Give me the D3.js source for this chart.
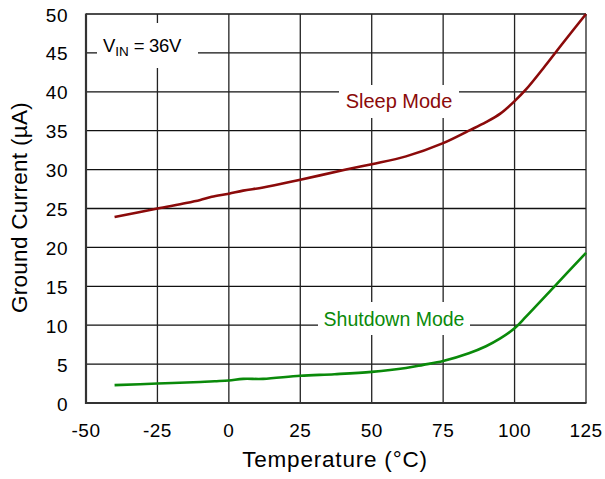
<!DOCTYPE html>
<html>
<head>
<meta charset="utf-8">
<script src="https://cdn.jsdelivr.net/npm/d3@7"></script>
<style>
  html, body { margin: 0; padding: 0; background: #fff; }
  svg text { font-family: Arial, "Liberation Sans", Helvetica, sans-serif; }
</style>
</head>
<body>
<svg id="chart" width="605" height="479"></svg>
<script>
// ---- data ----
const xTicks = [-50, -25, 0, 25, 50, 75, 100, 125];
const yTicks = [0, 5, 10, 15, 20, 25, 30, 35, 40, 45, 50];

const sleepTemp  = [-40, -25, -15, -10, -6, 0, 5, 12, 25, 41, 50, 62, 75, 84, 90, 95, 100, 104, 110, 117, 125];
const sleepCurr  = [23.9, 25.0, 25.7, 26.1, 26.5, 26.9, 27.3, 27.7, 28.7, 30.0, 30.7, 31.7, 33.4, 35.0, 36.1, 37.2, 38.8, 40.3, 43.0, 46.3, 50.0];

const shutTemp   = [-40, -25, -10, -5, 0, 5, 12, 25, 37, 50, 62, 68, 75, 84, 90, 95, 100, 104, 114, 125];
const shutCurr   = [2.3, 2.5, 2.7, 2.8, 2.9, 3.1, 3.1, 3.5, 3.7, 4.0, 4.5, 4.9, 5.4, 6.4, 7.3, 8.3, 9.6, 11.1, 15.0, 19.3];

// ---- layout ----
const svg = d3.select("#chart");
const L = 86, R = 586, T = 14, B = 403;
const x = d3.scaleLinear().domain([-50, 125]).range([L, R]);
const y = d3.scaleLinear().domain([0, 50]).range([B, T]);

// grid
const grid = svg.append("g");
grid.selectAll("line.h").data(yTicks).join("line")
  .attr("x1", L).attr("x2", R)
  .attr("y1", d => y(d)).attr("y2", d => y(d))
  .attr("stroke", "#111").attr("stroke-width", 1.3);
grid.selectAll("line.v").data(xTicks).join("line")
  .attr("y1", T).attr("y2", B)
  .attr("x1", d => x(d)).attr("x2", d => x(d))
  .attr("stroke", "#222").attr("stroke-width", 1.3);

// frame (left and bottom heavier)
svg.append("line").attr("x1", L).attr("x2", L).attr("y1", T - 0.5).attr("y2", B + 1).attr("stroke", "#333").attr("stroke-width", 2.2);
svg.append("line").attr("x1", L - 1).attr("x2", R + 0.5).attr("y1", B).attr("y2", B).attr("stroke", "#333").attr("stroke-width", 2.2);

// white label boxes
const boxes = [
  {x0: 97, x1: 198, y0: 23, y1: 68},
  {x0: 339, x1: 459, y0: 85, y1: 118},
  {x0: 318, x1: 470, y0: 302, y1: 335}
];
svg.selectAll("rect.box").data(boxes).join("rect")
  .attr("x", d => d.x0).attr("y", d => d.y0)
  .attr("width", d => d.x1 - d.x0).attr("height", d => d.y1 - d.y0)
  .attr("fill", "#fff");

// curves
const line = d3.line().x(d => x(d[0])).y(d => y(d[1])).curve(d3.curveCatmullRom.alpha(0.5));
svg.append("path")
  .datum(shutTemp.map((t, i) => [t, shutCurr[i]]))
  .attr("d", line).attr("fill", "none")
  .attr("stroke", "#0a8a0a").attr("stroke-width", 2.6);
svg.append("path")
  .datum(sleepTemp.map((t, i) => [t, sleepCurr[i]]))
  .attr("d", line).attr("fill", "none")
  .attr("stroke", "#8b0a0a").attr("stroke-width", 2.6);

// tick labels
svg.selectAll("text.xt").data(xTicks).join("text")
  .attr("x", d => x(d)).attr("y", 437)
  .attr("text-anchor", "middle").attr("font-size", 19)
  .attr("letter-spacing", 0.5)
  .attr("fill", "#000").text(d => d);
svg.selectAll("text.yt").data(yTicks).join("text")
  .attr("x", 68).attr("y", d => y(d) + 7.5)
  .attr("text-anchor", "end").attr("font-size", 19)
  .attr("letter-spacing", 0.5)
  .attr("fill", "#000").text(d => d);

// axis titles
svg.append("text").attr("x", 335).attr("y", 467)
  .attr("text-anchor", "middle").attr("font-size", 22.5)
  .attr("letter-spacing", 0.8).attr("fill", "#000")
  .text("Temperature (°C)");
svg.append("text")
  .attr("transform", "translate(27,207.5) rotate(-90)")
  .attr("text-anchor", "middle").attr("font-size", 22.5)
  .attr("letter-spacing", 0.3).attr("fill", "#000")
  .text("Ground Current (µA)");

// annotations
const vin = svg.append("text").attr("x", 103).attr("y", 52)
  .attr("font-size", 18.5).attr("fill", "#000");
vin.append("tspan").text("V");
vin.append("tspan").attr("font-size", 13.5).attr("dy", 4).text("IN");
vin.append("tspan").attr("dy", -4).attr("letter-spacing", -0.3).text(" = 36V");

svg.append("text").attr("x", 399).attr("y", 108)
  .attr("text-anchor", "middle").attr("font-size", 20)
  .attr("fill", "#8b0a0a").text("Sleep Mode");
svg.append("text").attr("x", 394).attr("y", 326)
  .attr("text-anchor", "middle").attr("font-size", 19.5)
  .attr("fill", "#0a8a0a").text("Shutdown Mode");
</script>
</body>
</html>
